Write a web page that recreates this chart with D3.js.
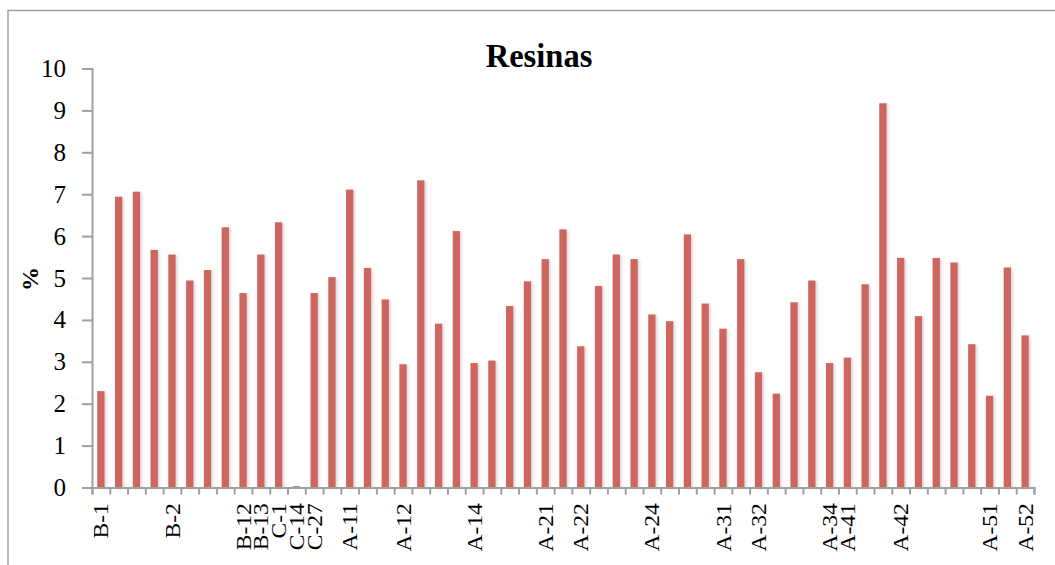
<!DOCTYPE html>
<html>
<head>
<meta charset="utf-8">
<script src="https://cdn.jsdelivr.net/npm/d3@7"></script>
<style>
  body { margin: 0; padding: 0; overflow: hidden; background: #fff; }
  text { font-family: "Liberation Serif", "Times New Roman", serif; }
</style>
</head>
<body>
<script>
// resin content per sample, in order along the x axis
const values = [
  2.30, 6.94, 7.06, 5.67, 5.56, 4.94, 5.19, 6.21, 4.64, 5.56,
  6.33, 0.03, 4.64, 5.02, 7.11, 5.24, 4.49, 2.94, 7.33, 3.91,
  6.12, 2.97, 3.03, 4.33, 4.92, 5.45, 6.16, 3.37, 4.81, 5.56,
  5.45, 4.13, 3.97, 6.04, 4.39, 3.79, 5.45, 2.75, 2.24, 4.42,
  4.94, 2.97, 3.10, 4.85, 9.17, 5.48, 4.09, 5.48, 5.37, 3.42,
  2.19, 5.25, 3.63
];

// only some categories carry a label
const labels = [
  "B-1", "", "", "", "B-2", "", "", "", "B-12", "B-13",
  "C-1", "C-14", "C-27", "", "A-11", "", "", "A-12", "", "",
  "", "A-14", "", "", "", "A-21", "", "A-22", "", "",
  "", "A-24", "", "", "", "A-31", "", "A-32", "", "",
  "", "A-34", "A-41", "", "", "A-42", "", "", "", "",
  "A-51", "", "A-52"
];

const yTicks = [0, 1, 2, 3, 4, 5, 6, 7, 8, 9, 10];

const W = 1055, H = 565;
const plotL = 92, plotR = 1034, plotT = 68.5, plotB = 487.5;

const svg = d3.select("body").append("svg")
  .attr("width", W).attr("height", H);

// chart frame (only top and left edges fit in the picture)
svg.append("path")
  .attr("d", `M8,${H} L8,10.5 L${W},10.5`)
  .attr("fill", "none")
  .attr("stroke", "#a0a0a0")
  .attr("stroke-width", 1.5);

const defs = svg.append("defs");
defs.append("filter").attr("id", "shadow")
  .attr("x", "-50%").attr("y", "-5%").attr("width", "200%").attr("height", "110%")
  .append("feDropShadow")
  .attr("dx", 1.5).attr("dy", 1).attr("stdDeviation", 1.5)
  .attr("flood-color", "#000").attr("flood-opacity", 0.18);

const idx = d3.range(values.length);

const x = d3.scaleBand().domain(idx).range([plotL, plotR]).padding(0);
const xEdge = d3.scaleLinear().domain([0, values.length]).range([plotL, plotR]);
const y = d3.scaleLinear().domain([0, 10]).range([plotB, plotT]);

// bars
const barW = 7.3;
svg.append("g").selectAll("rect")
  .data(values)
  .join("rect")
  .attr("x", (d, i) => x(i) + x.bandwidth() / 2 - barW / 2)
  .attr("y", d => y(d))
  .attr("width", barW)
  .attr("height", d => y(0) - y(d))
  .attr("fill", "#cd665f")
  .attr("filter", "url(#shadow)");

// y axis
const yAxis = svg.append("g")
  .attr("transform", `translate(${plotL},0)`)
  .call(d3.axisLeft(y).tickValues(yTicks).tickSize(10).tickPadding(16).tickFormat(d3.format("d")));
yAxis.select(".domain").attr("stroke", "#a0a0a0").attr("stroke-width", 2);
yAxis.selectAll(".tick line").attr("stroke", "#a0a0a0").attr("stroke-width", 2);
yAxis.selectAll(".tick text")
  .attr("font-size", 25)
  .attr("fill", "#000")
  .style("font-family", "Liberation Serif");

// x axis ticks at category boundaries
const xAxis = svg.append("g")
  .attr("transform", `translate(0,${plotB})`)
  .call(d3.axisBottom(xEdge).tickValues(d3.range(values.length + 1)).tickSize(7).tickFormat(""));
xAxis.select(".domain").attr("stroke", "#a0a0a0").attr("stroke-width", 2);
xAxis.selectAll(".tick line").attr("stroke", "#a0a0a0").attr("stroke-width", 2);

// category labels, rotated and slightly stretched along their length
const xLab = svg.append("g")
  .attr("transform", `translate(0,${plotB})`)
  .call(d3.axisBottom(x).tickSize(0).tickFormat(i => labels[i]));
xLab.select(".domain").remove();
xLab.selectAll(".tick text")
  .attr("font-size", 21)
  .attr("fill", "#000")
  .attr("text-anchor", "end")
  .attr("transform", "rotate(-90) scale(1.12,1)")
  .attr("x", -14)
  .attr("y", 0)
  .attr("dy", "0.36em")
  .style("font-family", "Liberation Serif");

// title
svg.append("text")
  .attr("transform", "translate(539,67) scale(1.05,1.12)")
  .attr("text-anchor", "middle")
  .attr("font-size", 31)
  .attr("font-weight", "bold")
  .text("Resinas");

// y axis title
svg.append("text")
  .attr("transform", "translate(38,279) rotate(-90)")
  .attr("text-anchor", "middle")
  .attr("font-size", 24)
  .attr("font-weight", "bold")
  .text("%");
</script>
</body>
</html>
